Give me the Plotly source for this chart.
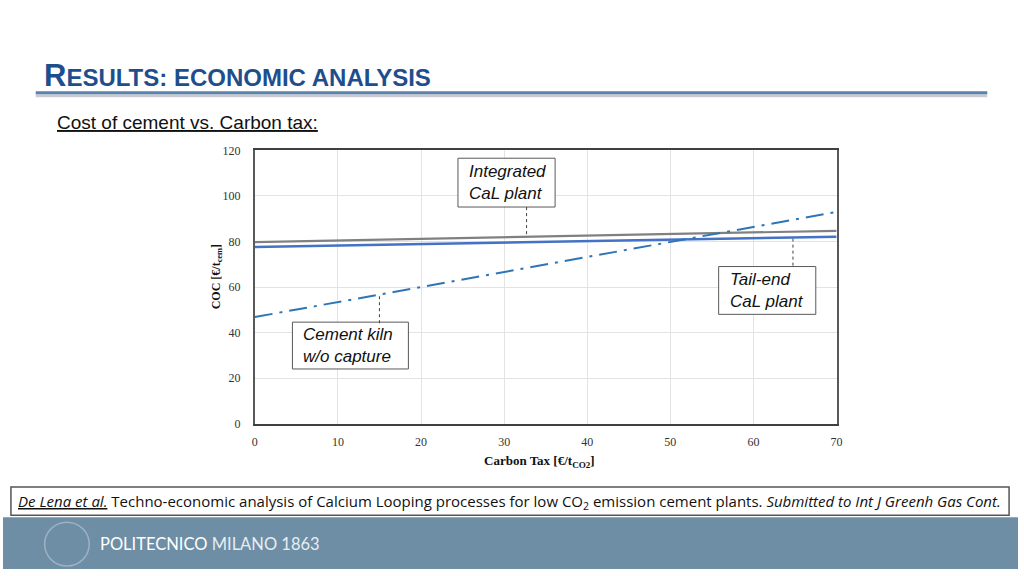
import numpy as np
import plotly.graph_objects as go

# carbon tax [EUR/t CO2]
tax = [0, 10, 20, 30, 40, 50, 60, 70]
# cost of cement [EUR/t cem]
coc_integrated = [79.7, 80.4, 81.1, 81.8, 82.6, 83.2, 83.9, 84.7]
coc_tailend = [77.6, 78.2, 78.9, 79.5, 80.2, 80.8, 81.5, 82.1]
coc_kiln = [46.8, 53.4, 60.0, 66.6, 73.2, 79.8, 86.4, 93.0]

x_ticks = [0, 10, 20, 30, 40, 50, 60, 70]
y_ticks = [0, 20, 40, 60, 80, 100, 120]

W, H = 1024, 576


def px(x):
    return x / W


def py(y):
    return 1 - y / H


fig = go.Figure()

fig.add_trace(go.Scatter(x=tax, y=coc_integrated, mode="lines",
                         line=dict(color="#808080", width=2.2), showlegend=False))
fig.add_trace(go.Scatter(x=tax, y=coc_tailend, mode="lines",
                         line=dict(color="#4472c4", width=2.5), showlegend=False))
fig.add_trace(go.Scatter(x=tax, y=coc_kiln, mode="lines",
                         line=dict(color="#2e75b6", width=2, dash="18px,7px,3px,7px"),
                         showlegend=False))

serif = "Liberation Serif"
sans = "Liberation Sans"

fig.update_layout(
    margin=dict(l=0, r=0, t=0, b=0),
    paper_bgcolor="white", plot_bgcolor="white",
    xaxis=dict(domain=[px(254), px(841)], range=[0, 70], tickvals=x_ticks,
               showgrid=True, gridcolor="#e3e3e3", zeroline=False,
               showline=True, linecolor="#404040", linewidth=1.5, mirror=True,
               ticks="outside", ticklen=6, tickcolor="rgba(0,0,0,0)",
               tickfont=dict(family=serif, size=12, color="#333333")),
    yaxis=dict(domain=[py(427), py(147)], range=[0, 120], tickvals=y_ticks,
               showgrid=True, gridcolor="#e3e3e3", zeroline=False,
               showline=True, linecolor="#595959", linewidth=1.5, mirror=True,
               ticks="outside", ticklen=10, tickcolor="rgba(0,0,0,0)",
               tickfont=dict(family=serif, size=12, color="#333333")),
)

shapes = []
ann = []


def text_at(x, y, text, font, xanchor="left", yanchor="middle", **kw):
    ann.append(dict(xref="paper", yref="paper", x=px(x), y=py(y), xanchor=xanchor,
                    yanchor=yanchor, showarrow=False, text=text, font=font, **kw))


# header rule with shadow
shapes.append(dict(type="line", xref="paper", yref="paper", x0=px(33), x1=px(993),
                   y0=py(91), y1=py(91), line=dict(color="#c8ccd2", width=3)))
shapes.append(dict(type="line", xref="paper", yref="paper", x0=px(33), x1=px(993),
                   y0=py(88), y1=py(88), line=dict(color="#5b82ad", width=3)))

text_at(39, 70, "<b><span style='font-size:31px'>R</span>ESULTS: ECONOMIC ANALYSIS</b>",
        dict(family=sans, size=24, color="#1f4e8c"))
text_at(52, 118, "<u>Cost of cement vs. Carbon tax:</u>",
        dict(family=sans, size=19, color="#111111"))

# axis titles
text_at(216, 277, "<b>COC [€/t<sub>cem</sub>]</b>", dict(family=serif, size=12, color="#111111"),
        xanchor="center", textangle=-90)
text_at(541, 466, "<b>Carbon Tax [€/t<sub>CO2</sub>]</b>", dict(family=serif, size=13, color="#111111"),
        xanchor="center")

# callout boxes: (text, left, top, right, bottom)
boxes = [
    ("Integrated<br>CaL plant", 459, 155, 557, 205),
    ("Tail-end<br>CaL plant", 722, 266, 820, 315),
    ("Cement kiln<br>w/o capture", 292, 323, 409, 371),
]
for text, x0, y0, x1, y1 in boxes:
    shapes.append(dict(type="rect", xref="paper", yref="paper", x0=px(x0), x1=px(x1),
                       y0=py(y1), y1=py(y0), line=dict(color="#595959", width=1),
                       fillcolor="white"))
    text_at(x0 + 9, (y0 + y1) / 2, "<i>" + text + "</i>",
            dict(family=sans, size=17, color="#111111"), align="left")

# dotted leaders from boxes to lines
leaders = [
    (32.7, 95.1, coc_integrated),
    (64.75, 69.4, coc_tailend),
    (15.0, 44.1, coc_kiln),
]
for lx, ly, series in leaders:
    shapes.append(dict(type="line", xref="x", yref="y", x0=lx, x1=lx, y0=ly,
                       y1=float(np.interp(lx, tax, series)),
                       line=dict(color="#404040", width=1, dash="dot")))

# citation box
shapes.append(dict(type="rect", xref="paper", yref="paper", x0=px(8), x1=px(1015),
                   y0=py(521), y1=py(492), line=dict(color="#555555", width=1.5),
                   fillcolor="white", layer="below"))
text_at(511, 507,
        "<u><i>De Lena et al.</i></u> Techno-economic analysis of Calcium Looping "
        "processes for low CO<sub>2</sub> emission cement plants. "
        "<i>Submitted to Int J Greenh Gas Cont.</i>",
        dict(family="Open Sans", size=15, color="#111111"), xanchor="center")

# bottom banner
shapes.append(dict(type="rect", xref="paper", yref="paper", x0=0, x1=1, y0=0, y1=py(523),
                   line=dict(width=0), fillcolor="#6e8ea6", layer="below"))
shapes.append(dict(type="circle", xref="paper", yref="paper", x0=px(42), x1=px(87),
                   y0=py(573), y1=py(528), line=dict(color="#9db1c2", width=1.5)))
text_at(96, 550, "POLITECNICO <span style='color:#e6edf2'>MILANO 1863</span>",
        dict(family="Lato", size=16.5, color="white"))

fig.update_layout(shapes=shapes, annotations=ann)

# let the figure fill the window exactly
fig.write_html("out.html", default_width="100%", default_height="100%",
               config={"responsive": True, "displayModeBar": False},
               post_script="document.documentElement.style.height='100%';"
                           "document.documentElement.style.overflow='hidden';"
                           "document.body.style.height='100%';"
                           "document.body.style.margin='0';"
                           "var gd=document.getElementById('{plot_id}');"
                           "gd.parentElement.style.height='100%';"
                           "Plotly.Plots.resize(gd);")
